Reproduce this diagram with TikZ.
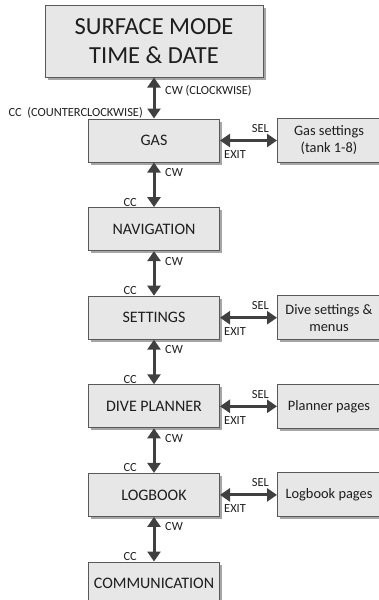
\documentclass[tikz,border=0pt]{standalone}
\usepackage{fontspec}
\setmainfont{Carlito}
\usetikzlibrary{positioning, arrows.meta, shadows}
\definecolor{BoxGray}{RGB}{231,231,231}
\definecolor{EdgeGray}{RGB}{89,89,89}
\definecolor{ArrowGray}{RGB}{64,64,64}
\definecolor{TextGray}{RGB}{30,30,30}
\tikzset{
  menubox/.style={draw=EdgeGray, fill=BoxGray, line width=1pt, align=center, inner sep=2pt, text=TextGray,
    drop shadow={shadow xshift=2.5pt, shadow yshift=-2.5pt, opacity=0.35, fill=black}},
  topbox/.style={menubox, minimum width=218pt, minimum height=72pt, font=\fontsize{24.5}{29}\selectfont},
  modebox/.style={menubox, minimum width=131pt, minimum height=43pt, font=\fontsize{16}{19}\selectfont},
  subbox/.style={menubox, minimum width=103pt, minimum height=44pt, font=\fontsize{14.4}{17}\selectfont},
  dbl/.style={{Triangle[length=10pt,width=13pt]}-{Triangle[length=10pt,width=13pt]}, line width=3pt, ArrowGray},
  keylab/.style={font=\fontsize{12.4}{14}\selectfont, inner sep=1pt, text=TextGray},
}

\begin{document}
\begin{tikzpicture}[x=1pt, y=1pt]
  \useasboundingbox (0,0) rectangle (378,-600);
  % main menu column
  \node[topbox] (top) at (154,-41) {SURFACE MODE\\TIME \& DATE};
  \node[modebox, below=41pt of top] (gas) {GAS};
  \node[modebox, below=44.6pt of gas] (nav) {NAVIGATION};
  \node[modebox, below=44.6pt of nav] (settings) {SETTINGS};
  \node[modebox, below=44.6pt of settings] (planner) {DIVE PLANNER};
  \node[modebox, below=44.6pt of planner] (logbook) {LOGBOOK};
  \node[modebox, below=44.6pt of logbook] (comm) {COMMUNICATION};
  % sub menus
  \node[subbox, right=57pt of gas] (gasset) {Gas settings\\(tank 1-8)};
  \node[subbox, right=57pt of settings] (diveset) {Dive settings \&\\menus};
  \node[subbox, right=57pt of planner] (planpg) {Planner pages};
  \node[subbox, right=57pt of logbook] (logpg) {Logbook pages};
  % rotating the knob
  \draw[dbl] (top) -- (gas);
  \node[keylab, anchor=west] at ([xshift=10pt,yshift=-13pt]top.south) {CW (CLOCKWISE)};
  \node[keylab, anchor=east] at ([xshift=-10pt,yshift=6pt]gas.north) {CC\ \ (COUNTERCLOCKWISE)};
  \foreach \a/\b in {gas/nav, nav/settings, settings/planner, planner/logbook, logbook/comm} {
    \draw[dbl] (\a) -- (\b);
    \node[keylab, anchor=west] at ([xshift=10pt,yshift=-10pt]\a.south) {CW};
    \node[keylab, anchor=east] at ([xshift=-16pt,yshift=5pt]\b.north) {CC};
  }
  % select / exit
  \foreach \a/\b in {gas/gasset, settings/diveset, planner/planpg, logbook/logpg} {
    \draw[dbl] (\a) -- (\b);
    \node[keylab, anchor=east] at ([xshift=-7pt,yshift=12pt]\b.west) {SEL};
    \node[keylab, anchor=west] at ([xshift=3pt,yshift=-14pt]\a.east) {EXIT};
  }
\end{tikzpicture}
\end{document}
